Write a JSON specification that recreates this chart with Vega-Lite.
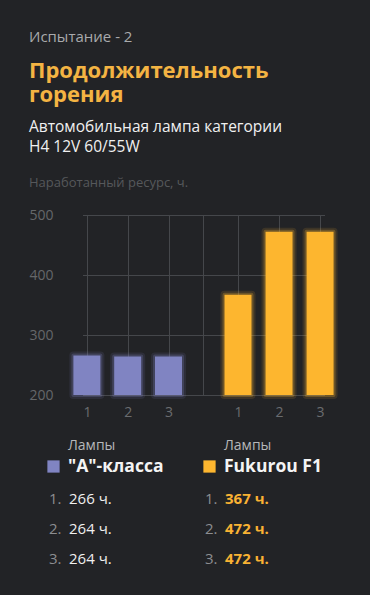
{
  "$schema": "https://vega.github.io/schema/vega-lite/v6.json",
  "background": "#222326",
  "padding": {"left": 28, "top": 29, "right": 32, "bottom": 30},
  "config": {
    "view": {"stroke": null},
    "font": "Open Sans",
    "title": {"font": "Open Sans", "subtitleFont": "Open Sans"}
  },
  "datasets": {
    "bars": [
      {"group": "A", "lamp": 1, "idx": 1, "hours": 266},
      {"group": "A", "lamp": 2, "idx": 2, "hours": 264},
      {"group": "A", "lamp": 3, "idx": 3, "hours": 264},
      {"group": "F", "lamp": 1, "idx": 4, "hours": 367},
      {"group": "F", "lamp": 2, "idx": 5, "hours": 472},
      {"group": "F", "lamp": 3, "idx": 6, "hours": 472}
    ],
    "groups": [
      {"group": "A", "name": "\"А\"-класса"},
      {"group": "F", "name": "Fukurou F1"}
    ]
  },
  "title": {
    "text": "Испытание - 2",
    "subtitle": ["Продолжительность", "горения"],
    "anchor": "start",
    "color": "#a9aaac",
    "fontSize": 15,
    "fontWeight": "normal",
    "subtitleColor": "#f4b443",
    "subtitleFontSize": 22,
    "subtitleFontWeight": "bold",
    "subtitleLineHeight": 24,
    "subtitlePadding": 16,
    "offset": 14
  },
  "bounds": "flush",
  "spacing": 43.5,
  "vconcat": [
    {
      "width": 243,
      "height": 180,
      "title": {
        "text": ["Автомобильная лампа категории", "H4 12V 60/55W"],
        "subtitle": "Наработанный ресурс, ч.",
        "anchor": "start",
        "color": "#f0f0f0",
        "fontSize": 15.5,
        "fontWeight": "normal",
        "lineHeight": 20,
        "subtitleColor": "#56585b",
        "subtitleFontSize": 13,
        "subtitlePadding": 22,
        "offset": 18
      },
      "data": {"name": "bars"},
      "encoding": {
        "x": {
          "field": "idx",
          "type": "quantitative",
          "scale": {"domain": [1, 3, 4, 6], "range": [0.5, 86.5, 156, 242.5], "nice": false, "zero": false},
          "axis": {
            "values": [1, 2, 3, 3.5, 4, 5, 6],
            "labelExpr": "datum.value == 3.5 ? '' : '' + (datum.value > 3.5 ? datum.value - 3 : datum.value)",
            "grid": true,
            "gridColor": "#45474b",
            "gridWidth": 1,
            "ticks": false,
            "domain": false,
            "labelColor": "#6a6c6f",
            "labelFontSize": 14,
            "labelPadding": 10,
            "title": null
          }
        },
        "y": {
          "field": "hours",
          "type": "quantitative",
          "scale": {"domain": [200, 500], "zero": false, "nice": false},
          "axis": {
            "values": [200, 300, 400, 500],
            "grid": true,
            "gridColor": "#45474b",
            "ticks": false,
            "domain": false,
            "labelColor": "#65676a",
            "labelFontSize": 14,
            "labelPadding": 29,
            "title": null
          }
        },
        "y2": {"datum": 200}
      },
      "layer": [
        {
          "mark": {"type": "bar", "size": 27, "fillOpacity": 0, "strokeWidth": 8, "strokeOpacity": 0.12, "strokeJoin": "round"},
          "encoding": {
            "stroke": {"field": "group", "type": "nominal", "scale": {"domain": ["A", "F"], "range": ["#8084c2", "#fdb62f"]}, "legend": null}
          }
        },
        {
          "mark": {"type": "bar", "size": 27, "fillOpacity": 0, "strokeWidth": 4, "strokeOpacity": 0.25, "strokeJoin": "round"},
          "encoding": {
            "stroke": {"field": "group", "type": "nominal", "scale": {"domain": ["A", "F"], "range": ["#8084c2", "#fdb62f"]}, "legend": null}
          }
        },
        {
          "mark": {"type": "bar", "size": 27},
          "encoding": {
            "color": {"field": "group", "type": "nominal", "scale": {"domain": ["A", "F"], "range": ["#8084c2", "#fdb62f"]}, "legend": null}
          }
        }
      ]
    },
    {
      "width": 243,
      "height": 120,
      "encoding": {
        "x": {"field": "group", "type": "nominal", "scale": {"type": "point", "domain": ["A", "F"], "range": [-28.5, 127.5], "padding": 0}, "axis": null}
      },
      "layer": [
        {
          "data": {"name": "groups"},
          "mark": {"type": "square", "size": 150, "filled": true, "opacity": 1, "yOffset": -2},
          "encoding": {
            "y": {"datum": "n", "type": "ordinal", "scale": {"type": "point", "domain": ["h", "n", 1, 2, 3], "padding": 0}, "axis": null},
            "color": {"field": "group", "type": "nominal", "scale": {"domain": ["A", "F"], "range": ["#8084c2", "#fdb62f"]}, "legend": null}
          }
        },
        {
          "data": {"name": "groups"},
          "mark": {"type": "text", "text": "Лампы", "align": "left", "baseline": "alphabetic", "dx": 14.5, "dy": 11.5, "fontSize": 14, "color": "#b6b7b9"},
          "encoding": {
            "y": {"datum": "h", "type": "ordinal"}
          }
        },
        {
          "data": {"name": "groups"},
          "mark": {"type": "text", "align": "left", "baseline": "alphabetic", "dx": 14.5, "dy": 3.8, "fontSize": 17.5, "fontWeight": "bold", "color": "#f4f4f4"},
          "encoding": {
            "y": {"datum": "n", "type": "ordinal"},
            "text": {"field": "name", "type": "nominal"}
          }
        },
        {
          "data": {"name": "bars"},
          "mark": {"type": "text", "text": {"expr": "datum.lamp + '.'"}, "align": "left", "baseline": "alphabetic", "dx": -4.5, "dy": 5.5, "fontSize": 15, "color": "#8c8d90"},
          "encoding": {
            "y": {"field": "lamp", "type": "ordinal"}
          }
        },
        {
          "data": {"name": "bars"},
          "transform": [{"filter": "datum.group == 'A'"}],
          "mark": {"type": "text", "text": {"expr": "datum.hours + ' ч.'"}, "align": "left", "baseline": "alphabetic", "dx": 15.5, "dy": 5.5, "fontSize": 15, "color": "#f0f0f0"},
          "encoding": {
            "y": {"field": "lamp", "type": "ordinal"}
          }
        },
        {
          "data": {"name": "bars"},
          "transform": [{"filter": "datum.group == 'F'"}],
          "mark": {"type": "text", "text": {"expr": "datum.hours + ' ч.'"}, "align": "left", "baseline": "alphabetic", "dx": 15.5, "dy": 5.5, "fontSize": 15, "fontWeight": "bold", "color": "#f9b233"},
          "encoding": {
            "y": {"field": "lamp", "type": "ordinal"}
          }
        }
      ]
    }
  ]
}
